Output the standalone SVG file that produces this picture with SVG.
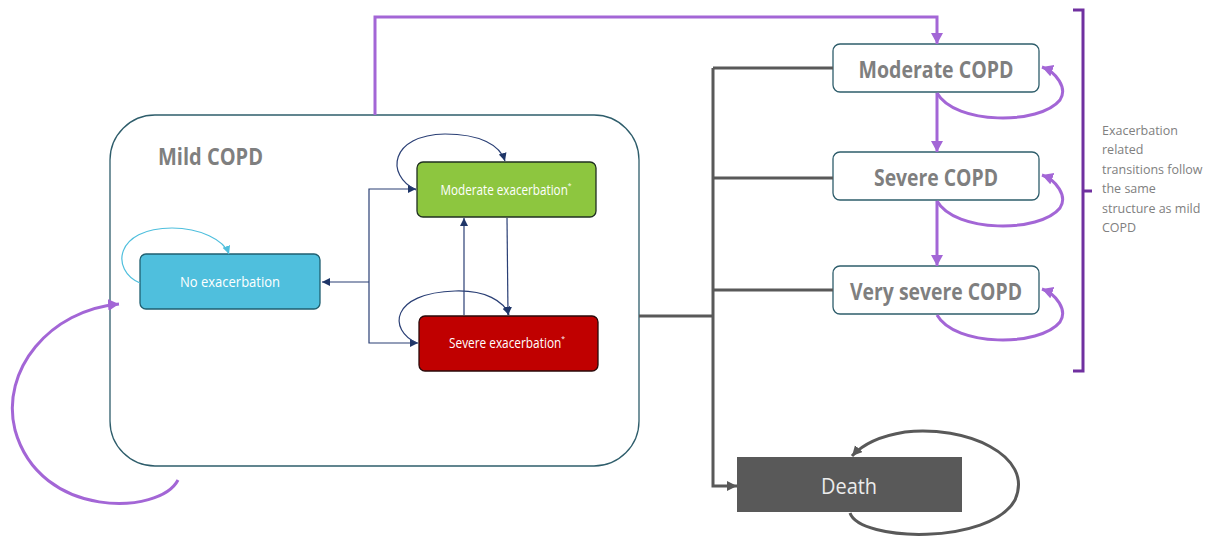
<svg xmlns="http://www.w3.org/2000/svg" width="1209" height="541" viewBox="0 0 1209 541">
<style>
.lbl{font-family:"Open Sans","Liberation Sans",sans-serif;}
.copd{font-family:"Open Sans","Liberation Sans",sans-serif;font-weight:bold;font-size:23px;fill:#7f7f7f;text-anchor:middle;}
.exl{font-family:"Open Sans","Liberation Sans",sans-serif;font-size:14px;fill:#ffffff;text-anchor:middle;}
.sup{font-size:8px;}
.navy{fill:none;stroke:#2a3f75;stroke-width:1.2;}
.purp{fill:none;stroke:#a366d6;stroke-width:3;}
.gray{fill:none;stroke:#595959;stroke-width:3;}
.cbox{fill:#ffffff;stroke:#2e5d6b;stroke-width:1.3;}
.note{font-family:"Open Sans","Liberation Sans",sans-serif;font-size:12.5px;fill:#808080;}
</style>
<defs>
<marker id="an" markerUnits="userSpaceOnUse" markerWidth="10" markerHeight="10" refX="8" refY="4" orient="auto"><path d="M0,0 L8,4 L0,8 Z" fill="#1f3668"/></marker>
<marker id="ab" markerUnits="userSpaceOnUse" markerWidth="10" markerHeight="10" refX="8" refY="4" orient="auto"><path d="M0,0 L8,4 L0,8 Z" fill="#4fbfdd"/></marker>
<marker id="ap" markerUnits="userSpaceOnUse" markerWidth="14" markerHeight="14" refX="11" refY="6" orient="auto"><path d="M0,0 L11,6 L0,12 Z" fill="#a366d6"/></marker>
<marker id="ag" markerUnits="userSpaceOnUse" markerWidth="14" markerHeight="14" refX="10" refY="5" orient="auto"><path d="M0,0 L10,5 L0,10 Z" fill="#595959"/></marker>
</defs>

<g id="mild-copd">
<rect x="110" y="115" width="529" height="351" rx="45" fill="#ffffff" stroke="#2e5d6b" stroke-width="1.3"/>
<text x="158" y="165" class="lbl" font-weight="bold" font-size="24" fill="#7f7f7f" textLength="105" lengthAdjust="spacingAndGlyphs">Mild COPD</text>
</g>

<g id="no-exacerbation">
<rect x="140" y="254" width="180" height="55" rx="6" fill="#4fbfdd" stroke="#1f5f70" stroke-width="1.3"/>
<text x="230" y="287" class="exl" textLength="100" lengthAdjust="spacingAndGlyphs">No exacerbation</text>
</g>

<g id="moderate-exacerbation">
<rect x="417" y="162" width="179" height="55" rx="6" fill="#8dc63f" stroke="#1f2f20" stroke-width="1.3"/>
<text x="506" y="195" class="exl" textLength="131" lengthAdjust="spacingAndGlyphs">Moderate exacerbation<tspan class="sup" dy="-7">*</tspan></text>
</g>

<g id="severe-exacerbation">
<rect x="419" y="316" width="179" height="55" rx="6" fill="#c00000" stroke="#2a0a0a" stroke-width="1.3"/>
<text x="507" y="348" class="exl" textLength="116" lengthAdjust="spacingAndGlyphs">Severe exacerbation<tspan class="sup" dy="-7">*</tspan></text>
</g>

<g id="moderate-copd">
<rect class="cbox" x="833" y="44" width="206" height="48" rx="7"/>
<text x="936" y="78" class="copd" textLength="155" lengthAdjust="spacingAndGlyphs">Moderate COPD</text>
</g>

<g id="severe-copd">
<rect class="cbox" x="833" y="152" width="206" height="48" rx="7"/>
<text x="936" y="186" class="copd" textLength="124" lengthAdjust="spacingAndGlyphs">Severe COPD</text>
</g>

<g id="very-severe-copd">
<rect class="cbox" x="833" y="266" width="206" height="48" rx="7"/>
<text x="936" y="300" class="copd" textLength="172" lengthAdjust="spacingAndGlyphs">Very severe COPD</text>
</g>

<g id="death">
<rect x="737" y="457" width="225" height="55" fill="#595959"/>
<text x="849" y="494" class="lbl" font-size="22" fill="#ececec" text-anchor="middle" textLength="56" lengthAdjust="spacingAndGlyphs">Death</text>
</g>

<g id="note">
<path d="M1073,10 H1083 V371 H1073 M1083,191 H1092" fill="none" stroke="#7030a0" stroke-width="3"/>
<text class="note"><tspan x="1102" y="135">Exacerbation</tspan><tspan x="1102" y="154">related</tspan><tspan x="1102" y="174">transitions follow</tspan><tspan x="1102" y="193">the same</tspan><tspan x="1102" y="213">structure as mild</tspan><tspan x="1102" y="232">COPD</tspan></text>
</g>

<g id="connectors">
<path class="navy" d="M369,282 H322" marker-end="url(#an)"/>
<path class="navy" d="M369,282 V189 H416" marker-end="url(#an)"/>
<path class="navy" d="M369,282 V343 H418" marker-end="url(#an)"/>
<path class="navy" d="M507,218 L508,315" marker-end="url(#an)"/>
<path class="navy" d="M464,315 L464,218" marker-end="url(#an)"/>
<path class="navy" d="M416,190 C 385,175 390,135 445,134 C 480,134 500,145 505,161" marker-end="url(#an)"/>
<path class="navy" d="M417,343 C 388,330 390,293 455,291 C 485,290 504,301 509,315" marker-end="url(#an)"/>
<path fill="none" stroke="#4fbfdd" stroke-width="1.2" d="M140,283 C 110,270 115,228 172,228 C 200,228 224,240 229,254" marker-end="url(#ab)"/>

<path class="purp" d="M375,115 V17 H937 V44" marker-end="url(#ap)"/>
<path class="purp" d="M178,480 C 160,515 40,520 15,430 C 0,370 50,310 119,304" marker-end="url(#ap)"/>
<path class="purp" d="M937,93 V152" marker-end="url(#ap)"/>
<path class="purp" d="M937,201 V266" marker-end="url(#ap)"/>
<path class="purp" d="M937,93 C 955,125 1040,125 1060,100 C 1068,88 1056,72 1042,67" marker-end="url(#ap)"/>
<path class="purp" d="M937,201 C 955,233 1040,233 1060,208 C 1068,196 1056,180 1042,175" marker-end="url(#ap)"/>
<path class="purp" d="M937,315 C 955,347 1040,347 1060,322 C 1068,310 1056,294 1042,289" marker-end="url(#ap)"/>

<path class="gray" d="M639,316 H713"/>
<path class="gray" d="M713,68 H833 M713,178 H833 M713,290 H833"/>
<path class="gray" d="M713,68 V486 H737" marker-end="url(#ag)"/>
<path class="gray" d="M850,513 C 860,542 990,545 1015,500 C 1035,455 965,425 905,432 C 880,436 862,445 852,456" marker-end="url(#ag)"/>
</g>
</svg>
